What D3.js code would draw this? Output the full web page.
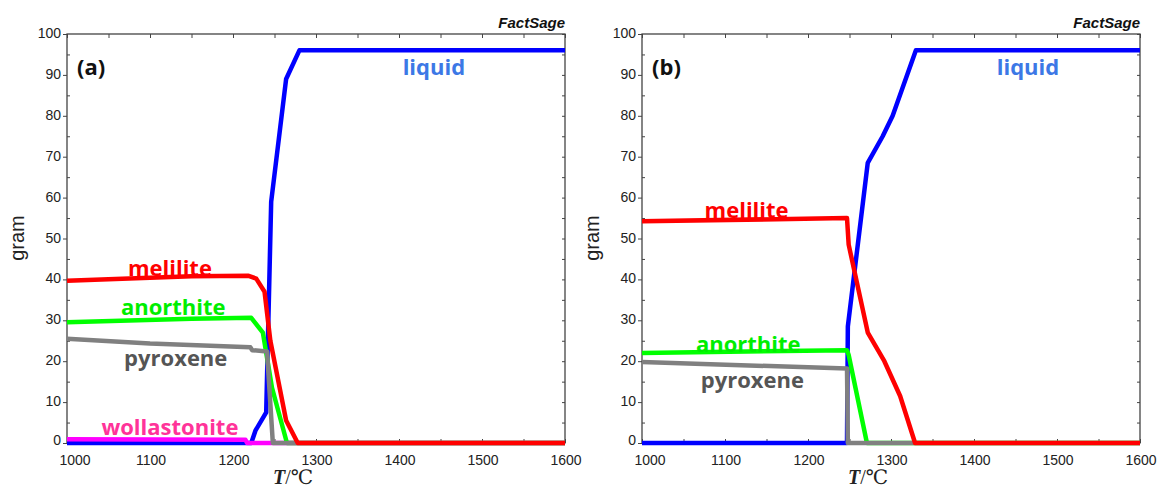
<!DOCTYPE html>
<html>
<head>
<meta charset="utf-8">
<script src="https://cdn.jsdelivr.net/npm/d3@7"></script>
<style>
  body { margin: 0; background: #fff; }
  svg { display: block; }
  .tick-label { font-family: "Liberation Sans", Arial, sans-serif; font-size: 14px; fill: #222; }
  .curve-label { font-family: "Open Sans", sans-serif; font-weight: bold; font-size: 22px; }
</style>
</head>
<body>
<div class="render"></div>
<script>
"use strict";

var width = 1158;
var height = 488;

// tick values
var xTicks = [1000, 1100, 1200, 1300, 1400, 1500, 1600];
var yTicks = [0, 10, 20, 30, 40, 50, 60, 70, 80, 90, 100];

// panel (a): [T, gram]
var liquidA = [[1000, 0], [1222, 0], [1227, 3], [1240, 7.5], [1246, 59], [1264, 89], [1280, 96], [1600, 96]];
var wollastoniteA = [[1000, 0.9], [1215, 0.8], [1217, 0], [1600, 0]];
var anorthiteA = [[1000, 29.5], [1150, 30.4], [1222, 30.6], [1236, 27], [1247, 13.5], [1265, 0], [1600, 0]];
var pyroxeneA = [[1000, 25.5], [1100, 24.3], [1221, 23.4], [1223, 22.7], [1241, 22.4], [1248, 0], [1600, 0]];
var meliliteA = [[1000, 39.7], [1150, 40.8], [1218, 40.9], [1228, 40.2], [1238, 37], [1245, 25], [1264, 5.5], [1278, 0], [1600, 0]];

// panel (b): [T, gram]
var liquidB = [[1000, 0], [1247, 0], [1248, 28.5], [1272, 68.5], [1290, 75], [1302, 80], [1330, 96], [1600, 96]];
var anorthiteB = [[1000, 22], [1247, 22.7], [1249, 21.5], [1271, 0], [1600, 0]];
var pyroxeneB = [[1000, 19.8], [1247, 18.2], [1248, 0], [1600, 0]];
var meliliteB = [[1000, 54.2], [1247, 55], [1249, 48.5], [1272, 27], [1292, 20], [1311, 11.5], [1329, 0], [1600, 0]];

var svg = d3.select('.render').append('svg').attr('width', width).attr('height', height);
svg.append('rect').attr('width', width).attr('height', height).attr('fill', '#fff');

function drawPanel(left, tag, series, labels) {
   var x = d3.scaleLinear().domain([1000, 1600]).range([left, left + 498]);
   var y = d3.scaleLinear().domain([0, 100]).range([443, 34]);
   var g = svg.append('g');

   // frame
   g.append('rect').attr('x', x(1000)).attr('y', y(100))
      .attr('width', x(1600) - x(1000)).attr('height', y(0) - y(100))
      .attr('fill', 'none').attr('stroke', '#444').attr('stroke-width', 1.3);

   // ticks, pointing in except major y ticks on the left
   var xMinor = d3.range(1050, 1600, 100);
   var yMinor = d3.range(5, 100, 10);
   g.append('g').attr('transform', 'translate(0,' + y(0) + ')')
      .call(d3.axisTop(x).tickValues(xTicks.concat(xMinor)).tickSize(4).tickFormat(''))
      .call(function (a) { a.select('.domain').remove(); });
   g.append('g').attr('transform', 'translate(0,' + y(100) + ')')
      .call(d3.axisBottom(x).tickValues(xTicks.concat(xMinor)).tickSize(4).tickFormat(''))
      .call(function (a) { a.select('.domain').remove(); });
   g.append('g').attr('transform', 'translate(' + x(1000) + ',0)')
      .call(d3.axisLeft(y).tickValues(yTicks).tickSize(4).tickFormat(''))
      .call(function (a) { a.select('.domain').remove(); });
   g.append('g').attr('transform', 'translate(' + x(1000) + ',0)')
      .call(d3.axisRight(y).tickValues(yMinor).tickSize(3).tickFormat(''))
      .call(function (a) { a.select('.domain').remove(); });
   g.append('g').attr('transform', 'translate(' + x(1600) + ',0)')
      .call(d3.axisLeft(y).tickValues(yTicks.concat(yMinor)).tickSize(3).tickFormat(''))
      .call(function (a) { a.select('.domain').remove(); });
   g.selectAll('.tick line').attr('stroke', '#444');

   // tick labels
   g.selectAll('.xlab').data(xTicks).enter().append('text').attr('class', 'tick-label')
      .attr('x', function (d) { return x(d) + (d === 1000 ? 8 : 1); }).attr('y', 465)
      .attr('text-anchor', 'middle').text(function (d) { return d; });
   g.selectAll('.ylab').data(yTicks).enter().append('text').attr('class', 'tick-label')
      .attr('x', x(1000) - 6).attr('y', function (d) { return y(d) + (d === 0 ? 2 : 4); })
      .attr('text-anchor', 'end').text(function (d) { return d; });

   // axis titles
   g.append('text').attr('transform', 'translate(' + (left - 43) + ',' + 238 + ') rotate(-90)')
      .attr('text-anchor', 'middle').style('font-family', '"Liberation Sans", Arial, sans-serif')
      .style('font-size', '20px').attr('fill', '#222').text('gram');
   var tl = g.append('text').attr('x', left + 206).attr('y', 488 - 4)
      .style('font-family', '"Liberation Serif", "DejaVu Serif", serif').style('font-size', '20px').attr('fill', '#222');
   tl.append('tspan').style('font-weight', 'bold').style('font-style', 'italic').text('T');
   tl.append('tspan').text('/\u2103');

   g.append('text').attr('x', x(1600)).attr('y', 28).attr('text-anchor', 'end')
      .style('font-family', '"Liberation Sans", Arial, sans-serif').style('font-weight', 'bold')
      .style('font-style', 'italic').style('font-size', '15px').attr('fill', '#111').text('FactSage');
   g.append('text').attr('x', left + 10).attr('y', 75)
      .style('font-family', '"Open Sans", sans-serif').style('font-weight', 'bold')
      .style('font-size', '22px').attr('fill', '#111').text(tag);

   // curves
   var line = d3.line().x(function (d) { return x(d[0]); }).y(function (d) { return y(d[1]); });
   series.forEach(function (s) {
      g.append('path').datum(s.data).attr('d', line).attr('fill', 'none')
         .attr('stroke', s.color).attr('stroke-width', 4.5).attr('stroke-linejoin', 'round');
   });

   labels.forEach(function (l) {
      g.append('text').attr('class', 'curve-label').attr('x', x(l.at[0])).attr('y', y(l.at[1]))
         .attr('text-anchor', 'middle').attr('fill', l.color).text(l.text);
   });
}

drawPanel(67, '(a)', [
   { data: liquidA, color: '#0000ff' },
   { data: wollastoniteA, color: '#ff00ff' },
   { data: anorthiteA, color: '#00ff00' },
   { data: pyroxeneA, color: '#808080' },
   { data: meliliteA, color: '#ff0000' }
], [
   { text: 'liquid', at: [1442, 90], color: '#3c78e6' },
   { text: 'melilite', at: [1124, 40.8], color: '#ff0000' },
   { text: 'anorthite', at: [1128, 31.3], color: '#00ee00' },
   { text: 'pyroxene', at: [1131, 18.8], color: '#555555' },
   { text: 'wollastonite', at: [1124, 2], color: '#ff3399' }
]);

drawPanel(642, '(b)', [
   { data: liquidB, color: '#0000ff' },
   { data: anorthiteB, color: '#00ff00' },
   { data: pyroxeneB, color: '#808080' },
   { data: meliliteB, color: '#ff0000' }
], [
   { text: 'liquid', at: [1465, 90], color: '#3c78e6' },
   { text: 'melilite', at: [1126, 55], color: '#ff0000' },
   { text: 'anorthite', at: [1128, 22.2], color: '#00ee00' },
   { text: 'pyroxene', at: [1133, 13.4], color: '#555555' }
]);
</script>
</body>
</html>
